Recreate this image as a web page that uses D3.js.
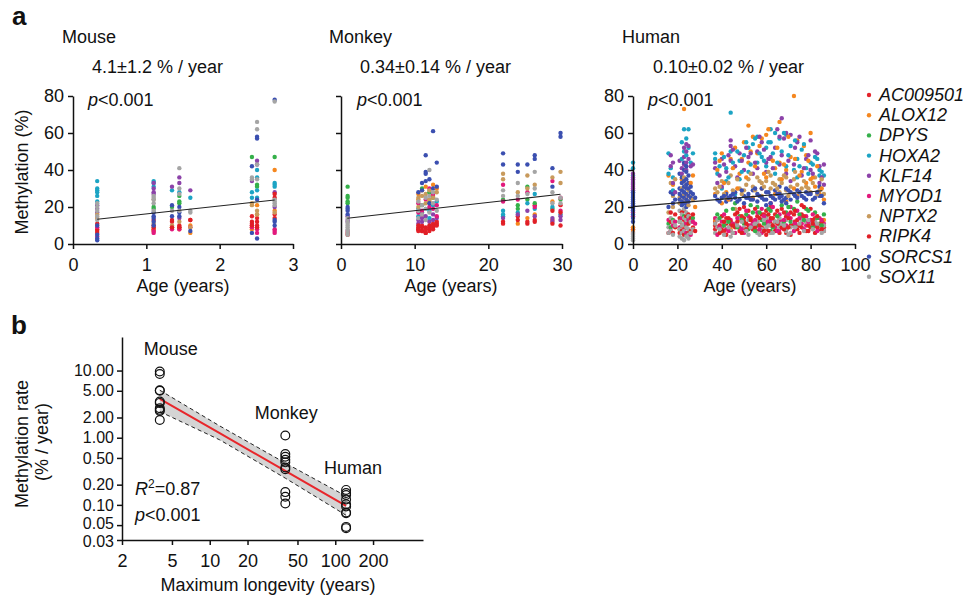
<!DOCTYPE html>
<html>
<head>
<meta charset="utf-8">
<script src="https://cdn.jsdelivr.net/npm/d3@7"></script>
<style>
  body { margin: 0; background: #fff; }
  text { font-family: "Liberation Sans", Arial, Helvetica, sans-serif; font-size: 18px; fill: #111; }
  .tick text { font-family: "Liberation Sans", Arial, Helvetica, sans-serif; font-size: 18px; fill: #111; }
  .rateAxis .tick text { font-size: 16px; }
  .axis .domain, .axis .tick line { stroke: #111; stroke-width: 1.5; }
  .panelLetter { font-size: 26px; font-weight: bold; }
  .legend text { font-style: italic; font-size: 18px; }
</style>
</head>
<body>
<div id="chart"></div>
<script>
// genes (legend order) and their colours
var genes = ["AC009501", "ALOX12", "DPYS", "HOXA2", "KLF14", "MYOD1", "NPTX2", "RIPK4", "SORCS1", "SOX11"];
var geneColors = ["#e4232a", "#f5871f", "#35b04a", "#1ca4c4", "#8c42a9", "#e2197c", "#c89a5c", "#e01f26", "#3b4fb0", "#a5a5a5"];

// each column = one age, values listed per gene in the order above
var mouseAges = [0.33, 1.1, 1.35, 1.45, 1.6, 2.44, 2.51, 2.75];
var mouseMeth = [
  [[8, 6], [14], [], [34, 30, 29, 28, 26, 23], [21, 19, 17], [9, 4], [16], [11, 7], [10, 5, 3, 2], [22, 20, 18, 15, 13]],
  [[10, 8], [8, 7], [20, 19], [34, 33, 31], [33, 30, 28, 27], [7, 6], [24, 11], [13, 9], [17, 15, 14, 12, 10], [26, 25, 24, 22, 18]],
  [[12], [9], [20], [29], [31], [8], [10], [13, 9], [21, 15], [18]],
  [[10, 9], [8], [26, 23, 22], [28], [36, 33, 14], [8], [12], [9], [20, 17, 15], [41, 30, 27, 18]],
  [[13], [10, 6], [], [25], [29], [9], [9], [13], [7], [18, 17]],
  [[15, 11], [9, 8], [47], [28, 25], [34], [10, 9], [22, 21], [12, 10], [42, 6], [36, 35]],
  [[14, 10], [21, 16], [32, 31], [40, 36, 29, 25], [45, 43], [6, 8], [18, 16], [12, 9], [58, 57, 24, 3], [66, 62, 43, 35]],
  [[16, 14], [40, 18], [47], [33, 32, 31], [28, 20], [8, 7, 6], [17], [27, 25], [78, 13, 12, 10], [77, 24, 23, 22, 21]]
];
var mouseFit = [[0.33, 13.4], [2.75, 23.8]];

var monkeyAges = [0.9, 10.5, 11, 11.5, 12, 12.5, 13, 22, 24, 25.3, 26.3, 28.7, 29.8];
var monkeyMeth = [
  [[6], [], [31, 26, 25, 23, 22], [], [15, 13, 12], [7], [], [5], [20, 19, 18, 16], [14, 12, 11, 10, 9, 8, 7, 6, 5]],
  [[9, 8, 7], [27, 24], [], [19, 15], [13, 11], [22, 17], [25, 20], [10, 8], [28], [23, 18, 14]],
  [[10, 7], [29], [30, 21], [17], [14, 12], [18, 16], [26], [9, 7], [33, 29], [21, 16]],
  [[8, 6], [31], [], [19], [15], [24], [27, 22], [9, 6], [48, 39, 38, 34], [25, 19, 13]],
  [[9, 7], [23], [28], [18, 14], [12], [30, 20], [29, 24], [10, 8], [35, 22], [40, 26, 17]],
  [[11, 9], [32, 26], [25], [21], [16, 13], [27, 19], [25], [10, 8], [61, 30], [28, 22]],
  [[12, 10], [30], [], [23], [14], [21, 15], [28], [11], [44, 31], [24, 18]],
  [[11], [], [24], [18, 16, 15], [14], [32, 23], [38, 35], [12], [49, 43], [29, 26]],
  [[15], [11], [21, 19], [17], [16], [24], [28], [13], [43, 39], [33, 26]],
  [[12], [14], [31, 24], [22], [18], [28], [37, 30], [11], [43], [27]],
  [[21, 13], [16], [22], [27, 19], [15], [20], [32], [12], [48, 46], [39, 30]],
  [[13], [23], [19], [20], [14, 12], [34], [36], [18, 11], [41, 31], [28, 22]],
  [[21, 10], [], [24], [16], [15, 13], [25, 18], [39, 33], [17], [60, 58], [25, 22]]
];
var monkeyFit = [[0.86, 13.9], [29.8, 26.9]];

var humanAges = [0, 16, 17, 18, 19, 21, 22, 23, 24, 25, 26, 27, 28, 37, 38, 40, 42, 44, 46, 48, 50, 52, 54, 56, 58, 60, 62, 64, 66, 67, 69, 71, 72.5, 74, 76, 78, 80, 82, 84, 86,
  39, 41, 43, 45, 47, 49, 51, 53, 55, 57, 59, 61, 63, 65, 68, 70, 73, 75, 77, 79, 81, 83, 85];
var humanMeth = [
  [[8], [20, 9, 7], [], [44, 41, 37, 33], [38, 36, 35, 34, 33, 32, 31, 30, 29], [18, 17, 15], [], [6], [28, 27, 26, 25, 24, 23, 22, 21, 20, 19, 18, 16, 14, 12], [6, 5, 4, 3, 2]],
  [[6], [37], [11], [49, 38], [], [13], [17], [], [20], [9, 6]],
  [[12], [], [9], [41], [48, 42], [7], [33], [17], [28], [14, 7]],
  [[], [32], [13], [36, 29], [44, 33], [10], [26, 20], [6], [27, 22], [12, 5]],
  [[16], [], [], [], [28], [12], [35], [9], [24], [10]],
  [[14, 6], [8], [12], [], [45], [9], [25, 22], [], [38, 30, 27, 24], [18, 12, 8, 4]],
  [[10], [35], [6], [55, 46], [41, 38], [14], [30, 23], [17, 7], [36, 33, 29, 26, 23, 21], [16, 10, 6, 3]],
  [[18, 8], [73], [15], [62, 50], [52, 47, 43], [7], [36, 27], [13, 5], [44, 40, 34, 31, 28, 25, 22], [19, 14, 11, 7, 2]],
  [[12], [], [10, 5], [57, 48], [54, 50, 44, 40], [11, 6], [32, 24], [15, 9], [42, 39, 35, 32, 30, 27, 24, 22, 20], [17, 13, 9, 4]],
  [[16], [26], [14], [62, 52], [53, 46], [13], [29, 21], [11, 6], [37, 33, 30, 26, 23], [15, 8, 5, 3]],
  [[7], [33], [12], [44], [42], [5], [25], [14], [31, 28, 25], [12, 6]],
  [[9], [37], [14], [49], [43], [12], [24], [16], [27], [8]],
  [[], [20], [], [], [], [11], [], [7], [25], []],
  [[12, 8], [27, 13], [], [49, 46], [44, 41], [14], [30], [10], [26], [11, 6]],
  [[], [40], [16], [38], [33], [5], [28], [13], [24], [13, 9]],
  [[9], [49, 22], [], [30], [46, 31], [12], [34], [15, 7], [25], [10]],
  [[14, 5], [28], [18], [41, 34], [39], [8], [25], [11], [27, 23], [12]],
  [[10], [46, 8], [], [71, 50], [56, 53, 45], [13], [37], [12], [26, 24], [7, 4]],
  [[16], [52], [22], [27], [42], [6], [19], [9], [28, 25], [11]],
  [[7], [38, 13], [15], [45, 35], [49], [9], [30], [19], [24], [14]],
  [[20, 12], [55], [11], [48], [40], [6], [29], [14], [26, 22], [9]],
  [[18], [64, 44], [8], [52, 39], [47], [15], [35], [10], [27, 25], [13, 5]],
  [[11], [58, 25], [17], [54], [38], [12], [31], [8], [29, 24], [10]],
  [[15, 7], [49], [20, 10], [58, 44], [50, 41], [17], [36], [12], [27, 23], [12, 6]],
  [[9], [57, 30], [13], [47], [55], [19, 6], [33, 26], [16], [30, 25], [8]],
  [[13, 5], [59, 36], [15], [52, 42], [44, 39], [11], [34], [18, 8], [28, 24, 21], [14, 9]],
  [[20, 11], [46], [18, 7], [62, 55], [47], [22, 13], [37, 30], [14], [26, 22], [10, 6]],
  [[16], [41, 27], [12], [60, 38], [52], [9], [32], [7], [29, 24], [12]],
  [[12, 6], [66, 44], [10], [57], [58, 43], [16, 8], [35, 28], [13], [31, 27, 25], [14, 9]],
  [[19], [35], [21], [50], [68, 48], [12], [33], [9], [26, 23], [11]],
  [[14, 8], [40, 23], [17], [59, 42], [60, 38], [10], [36, 29], [15, 6], [30, 25, 22], [13, 7]],
  [[10, 5], [47], [12], [53], [59, 34], [20, 14], [31], [17], [28, 24], [9, 6]],
  [[16], [80, 30], [19], [40], [43], [7], [35, 27], [11], [27], [12]],
  [[13], [56, 26], [23], [46, 36], [55], [18, 9], [32], [8], [29, 25], [10]],
  [[21, 9], [39], [14], [51], [37], [11], [30], [16], [26], [13]],
  [[7], [48, 33], [19], [41], [46], [15, 10], [31], [12], [28, 24], [12]],
  [[11], [60, 35], [], [44], [56, 40], [13], [28], [19, 9], [27], [11]],
  [[14], [31], [17], [47], [50], [10], [36], [6], [25], [12]],
  [[8], [27], [11], [40, 37], [42, 33], [14], [29], [10], [31, 26], [9]],
  [[7], [24, 13], [16], [37], [43, 32], [11], [27], [9], [22], [10, 7]],
  // odd ages read in a second pass
  [[10], [45], [14], [42], [37], [9], [31], [6], [23], [8]],
  [[7], [33], [10], [47], [43], [16], [27], [12], [26], [5]],
  [[13], [24], [12], [36], [48], [7], [33], [14], [25], [9]],
  [[6], [41], [19], [44], [51], [11], [29], [10], [27], [6]],
  [[12], [30], [9], [50], [36], [14], [35], [17], [23], [10]],
  [[15], [46], [13], [39], [45], [8], [27], [6], [29], [12]],
  [[8], [36], [16], [55], [52], [18], [32], [11], [25], [7]],
  [[14], [50], [21], [43], [49], [10], [38], [13], [24], [9]],
  [[19], [42], [7], [57], [44], [13], [29], [9], [30], [11]],
  [[10], [53], [17], [49], [58], [8], [34], [14], [26], [5]],
  [[16], [38], [11], [45], [51], [15], [31], [7], [24], [13]],
  [[7], [62], [19], [55], [46], [12], [39], [16], [28], [10]],
  [[14], [45], [9], [49], [41], [20], [33], [10], [25], [6]],
  [[11], [52], [15], [44], [62], [7], [30], [18], [27], [12]],
  [[17], [43], [12], [60], [57], [13], [37], [8], [24], [10]],
  [[9], [58], [20], [48], [45], [16], [26], [14], [29], [5]],
  [[12], [46], [10], [56], [52], [11], [39], [18], [26], [9]],
  [[6], [37], [16], [42], [58], [14], [28], [10], [28], [11]],
  [[15], [53], [13], [54], [41], [8], [34], [20], [25], [7]],
  [[10], [45], [18], [38], [48], [12], [30], [7], [27], [13]],
  [[13], [36], [9], [43], [38], [16], [33], [11], [24], [8]],
  [[9], [42], [14], [46], [49], [7], [27], [15], [28], [11]],
  [[12], [30], [10], [39], [36], [13], [35], [8], [26], [6]]
];
var humanFit = [[0, 20.2], [85.3, 28.8]];

// panel b
var speciesNames = ["Mouse", "Monkey", "Human"];
var maxLongevity = [4, 40, 122];
var mouseRates = [9.7, 8.9, 5.1, 5.0, 3.45, 3.3, 2.75, 2.6, 2.5, 1.84];
var monkeyRates = [1.08, 0.57, 0.52, 0.47, 0.43, 0.36, 0.34, 0.155, 0.132, 0.105];
var humanRates = [0.167, 0.15, 0.14, 0.12, 0.102, 0.095, 0.077, 0.075, 0.047, 0.045];
var fitLongevity = [4, 12, 40, 122];
var fitRate = [3.8, 1.17, 0.32, 0.097];
var fitLow = [2.45, 0.93, 0.25, 0.07];
var fitHigh = [5.1, 1.5, 0.42, 0.135];
var rateTicks = [10, 5, 2, 1, 0.5, 0.2, 0.1, 0.05, 0.03];
var longevityTicks = [2, 5, 10, 20, 50, 100, 200];

var svg = d3.select("#chart").append("svg")
  .attr("width", 971)
  .attr("height", 600);

svg.append("text").attr("class", "panelLetter").attr("x", 12).attr("y", 25).text("a");
svg.append("text").attr("class", "panelLetter").attr("x", 11).attr("y", 334).text("b");

function pText(sel, x, y) {
  var t = sel.append("text").attr("x", x).attr("y", y);
  t.append("tspan").style("font-style", "italic").text("p");
  t.append("tspan").text("<0.001");
  return t;
}

// panel a scatter plots
var panels = [
  { name: "Mouse", rate: "4.1\u00b11.2 % / year", ages: mouseAges, meth: mouseMeth, fit: mouseFit,
    xMax: 3, ticks: [0, 1, 2, 3], left: 73, right: 293, yLabels: true, nameX: 62, rateX: 92, pX: 88, titleX: 183 },
  { name: "Monkey", rate: "0.34\u00b10.14 % / year", ages: monkeyAges, meth: monkeyMeth, fit: monkeyFit,
    xMax: 30, ticks: [0, 10, 20, 30], left: 341, right: 562, yLabels: false, nameX: 329, rateX: 360, pX: 357, titleX: 451 },
  { name: "Human", rate: "0.10\u00b10.02 % / year", ages: humanAges, meth: humanMeth, fit: humanFit,
    xMax: 100, ticks: [0, 20, 40, 60, 80, 100], left: 633, right: 855, yLabels: true, nameX: 622, rateX: 653, pX: 648, titleX: 750 }
];

var y = d3.scaleLinear().domain([0, 80]).range([244, 96]);

panels.forEach(function (p) {
  var x = d3.scaleLinear().domain([0, p.xMax]).range([p.left, p.right]);
  var g = svg.append("g");

  g.append("text").attr("x", p.nameX).attr("y", 43).text(p.name);
  g.append("text").attr("x", p.rateX).attr("y", 73).text(p.rate);
  pText(g, p.pX, 106);

  // flatten columns into points
  var pts = [];
  p.ages.forEach(function (age, i) {
    p.meth[i].forEach(function (vals, gi) {
      vals.forEach(function (v) { pts.push({ age: age, value: v, gene: gi }); });
    });
  });

  g.append("g").selectAll("circle")
    .data(pts)
    .enter()
    .append("circle")
    .attr("cx", d => x(d.age))
    .attr("cy", d => y(d.value))
    .attr("r", 2.2)
    .attr("fill", d => geneColors[d.gene]);

  g.append("line")
    .attr("x1", x(p.fit[0][0])).attr("y1", y(p.fit[0][1]))
    .attr("x2", x(p.fit[1][0])).attr("y2", y(p.fit[1][1]))
    .attr("stroke", "#222").attr("stroke-width", 1.1);

  var xAxis = d3.axisBottom(x).tickValues(p.ticks).tickFormat(d3.format("d"))
    .tickSize(5).tickSizeOuter(0).tickPadding(9);
  g.append("g").attr("class", "axis").attr("transform", "translate(0,244)").call(xAxis);

  var yAxis = d3.axisLeft(y).tickValues([0, 20, 40, 60, 80]).tickSize(5).tickSizeOuter(0).tickPadding(4);
  if (!p.yLabels) yAxis.tickFormat(() => "");
  g.append("g").attr("class", "axis").attr("transform", `translate(${p.left},0)`).call(yAxis);

  g.append("text").attr("x", p.titleX).attr("y", 292).attr("text-anchor", "middle").text("Age (years)");
});

svg.append("text")
  .attr("transform", "translate(28,172) rotate(-90)")
  .attr("text-anchor", "middle")
  .text("Methylation (%)");

// legend
var legend = svg.append("g").attr("class", "legend");
genes.forEach(function (gname, i) {
  var ly = 95 + i * 20.2;
  legend.append("circle").attr("cx", 869).attr("cy", ly).attr("r", 2.2).attr("fill", geneColors[i]);
  legend.append("text").attr("x", 879).attr("y", ly + 6).text(gname);
});

// panel b
var xb = d3.scaleLog().domain([2, 500]).range([122, 423]);
var yb = d3.scaleLog().domain([0.03, 31.6]).range([540, 337]);

var band = fitLongevity.map((L, i) => ({ L: L, fit: fitRate[i], lo: fitLow[i], hi: fitHigh[i] }));

svg.append("path")
  .datum(band)
  .attr("d", d3.area().x(d => xb(d.L)).y0(d => yb(d.lo)).y1(d => yb(d.hi)))
  .attr("fill", "#d4d4d4");

["lo", "hi"].forEach(function (k) {
  svg.append("path")
    .datum(band)
    .attr("d", d3.line().x(d => xb(d.L)).y(d => yb(d[k])))
    .attr("fill", "none")
    .attr("stroke", "#222")
    .attr("stroke-width", 1)
    .attr("stroke-dasharray", "4,3");
});

svg.append("path")
  .datum(band)
  .attr("d", d3.line().x(d => xb(d.L)).y(d => yb(d.fit)))
  .attr("fill", "none")
  .attr("stroke", "#e8262b")
  .attr("stroke-width", 2);

var rateSets = [mouseRates, monkeyRates, humanRates];
var ratePts = [];
rateSets.forEach(function (rates, si) {
  rates.forEach(function (r) { ratePts.push({ L: maxLongevity[si], rate: r }); });
});

svg.append("g").selectAll("circle")
  .data(ratePts)
  .enter()
  .append("circle")
  .attr("cx", d => xb(d.L))
  .attr("cy", d => yb(d.rate))
  .attr("r", 4.4)
  .attr("fill", "none")
  .attr("stroke", "#111")
  .attr("stroke-width", 1.2);

// species labels above each group
var labelDx = [11, 1, 7];
speciesNames.forEach(function (s, i) {
  svg.append("text")
    .attr("x", xb(maxLongevity[i]) + labelDx[i])
    .attr("y", yb(d3.max(rateSets[i])) - 16)
    .attr("text-anchor", "middle")
    .text(s);
});

svg.append("g").attr("class", "axis")
  .attr("transform", "translate(0,540)")
  .call(d3.axisBottom(xb).tickValues(longevityTicks).tickFormat(d3.format("d")).tickSize(5).tickSizeOuter(0).tickPadding(9));

var rateAxis = svg.append("g").attr("class", "axis rateAxis")
  .attr("transform", "translate(122,0)")
  .call(d3.axisLeft(yb).tickValues(rateTicks).tickFormat(d3.format(".2f")).tickSize(5).tickSizeOuter(0).tickPadding(3));

// the two lowest labels sit very close; spread them a little
rateAxis.selectAll(".tick text")
  .attr("y", d => d === 0.03 ? 1.5 : (d === 0.05 ? -1.5 : 0));

var r2 = svg.append("text").attr("x", 135).attr("y", 495);
r2.append("tspan").style("font-style", "italic").text("R");
r2.append("tspan").attr("dy", -7).style("font-size", "12px").text("2");
r2.append("tspan").attr("dy", 7).text("=0.87");
pText(svg, 135, 521);

svg.append("text").attr("x", 268).attr("y", 591).attr("text-anchor", "middle").text("Maximum longevity (years)");

svg.append("text")
  .attr("transform", "translate(28,444) rotate(-90)")
  .attr("text-anchor", "middle")
  .text("Methylation rate");
svg.append("text")
  .attr("transform", "translate(48,442) rotate(-90)")
  .attr("text-anchor", "middle")
  .text("(% / year)");
</script>
</body>
</html>
